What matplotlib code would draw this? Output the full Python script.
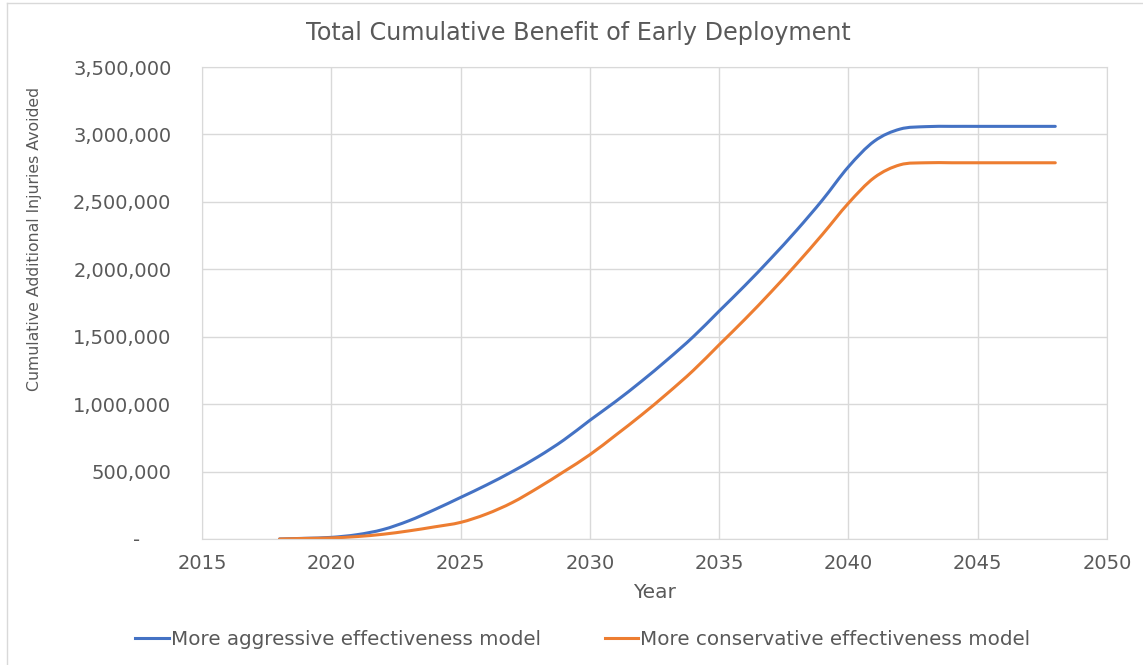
import matplotlib.pyplot as plt
from matplotlib import ticker
from matplotlib.patches import PathPatch
from matplotlib.path import Path
from matplotlib.lines import Line2D

years = list(range(2018, 2049))
aggressive = [0, 5000, 12000, 32000, 70000, 135000, 218000, 308000, 400000, 500000,
              610000, 735000, 880000, 1020000, 1170000, 1330000, 1500000, 1690000,
              1880000, 2080000, 2290000, 2515000, 2760000, 2950000, 3040000, 3058000,
              3060000, 3060000, 3060000, 3060000, 3060000]
conservative = [0, 4000, 8000, 18000, 35000, 60000, 90000, 123000, 185000, 270000,
                380000, 500000, 625000, 770000, 920000, 1080000, 1250000, 1440000,
                1630000, 1830000, 2040000, 2260000, 2490000, 2680000, 2775000, 2790000,
                2790000, 2790000, 2790000, 2790000, 2790000]
series_names = ['More aggressive effectiveness model', 'More conservative effectiveness model']
series_colors = ['#4472C4', '#ED7D31']
x_ticks = [2015, 2020, 2025, 2030, 2035, 2040, 2045, 2050]
y_ticks = [0, 500000, 1000000, 1500000, 2000000, 2500000, 3000000, 3500000]

plt.rcParams['font.family'] = ['DejaVu Sans']
grey = '#595959'


def smooth_path(xs, ys, t=1 / 6):
  # excel style smoothed line: cubic bezier between the points
  verts = [(xs[0], ys[0])]
  codes = [Path.MOVETO]
  n = len(xs)
  for i in range(n - 1):
    x0, y0 = xs[max(i - 1, 0)], ys[max(i - 1, 0)]
    x1, y1 = xs[i], ys[i]
    x2, y2 = xs[i + 1], ys[i + 1]
    x3, y3 = xs[min(i + 2, n - 1)], ys[min(i + 2, n - 1)]
    verts += [(x1 + (x2 - x0) * t, y1 + (y2 - y0) * t),
              (x2 - (x3 - x1) * t, y2 - (y3 - y1) * t),
              (x2, y2)]
    codes += [Path.CURVE4] * 3
  return Path(verts, codes)


fig = plt.figure(figsize=(11.43, 6.65), dpi=100)
# chart area border (only top and left show)
fig.add_artist(Line2D([0.006, 1.0], [0.995, 0.995], transform=fig.transFigure,
                      color='#D9D9D9', linewidth=1))
fig.add_artist(Line2D([0.006, 0.006], [0.0, 0.995], transform=fig.transFigure,
                      color='#D9D9D9', linewidth=1))
ax = fig.add_axes([0.1767, 0.1895, 0.7918, 0.7097])

handles = []
for vals, name, col in zip([aggressive, conservative], series_names, series_colors):
  ax.add_patch(PathPatch(smooth_path(years, vals), facecolor='none', edgecolor=col,
                         linewidth=2.2, capstyle='round'))
  handles.append(Line2D([], [], color=col, linewidth=2.2, label=name))

ax.set_xlim(2015, 2050)
ax.set_ylim(0, 3500000)
ax.xaxis.set_major_locator(ticker.FixedLocator(x_ticks))
ax.yaxis.set_major_locator(ticker.FixedLocator(y_ticks))
ax.yaxis.set_major_formatter(ticker.FuncFormatter(lambda v, p: '-     ' if v == 0 else f'{int(v):,}'))
ax.grid(True, color='#D9D9D9', linewidth=1)
ax.set_axisbelow(True)
for s in ax.spines.values():
  s.set_color('#D9D9D9')
ax.tick_params(length=0, labelsize=14, colors=grey, pad=11)
ax.tick_params(axis='y', pad=22)

fig.suptitle('Total Cumulative Benefit of Early Deployment', x=0.506, y=0.968, fontsize=17.2,
             color=grey, va='top')
ax.set_xlabel('Year', fontsize=14.5, color=grey, labelpad=7)
ax.set_ylabel('Cumulative Additional Injuries Avoided', fontsize=11.3, color=grey)
ax.yaxis.set_label_coords(-0.177, 0.636)

fig.legend(handles=handles, loc='center', bbox_to_anchor=(0.51, 0.038), ncol=2, frameon=False,
           fontsize=14.3, labelcolor=grey, handlelength=1.7, columnspacing=3.2,
           handletextpad=0.1)

plt.savefig('out.png', dpi=100)
